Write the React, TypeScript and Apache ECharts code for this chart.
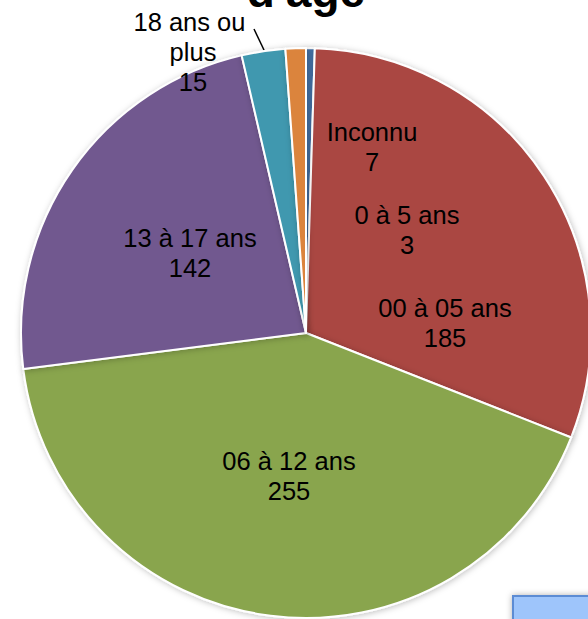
import React, { useEffect, useRef } from "react";
import * as echarts from "echarts";

const categories = ["0 à 5 ans", "00 à 05 ans", "06 à 12 ans", "13 à 17 ans", "18 ans ou plus", "Inconnu"];
const values = [3, 185, 255, 142, 15, 7];
const colors = ["#4572A7", "#AA4643", "#89A54E", "#71588F", "#4198AF", "#DB843D"];
const titleText = "d'âge";

// label block centres (layout only)
const labelPos: [number, number][] = [
  [407, 230],
  [445, 323],
  [289, 476],
  [190, 253],
  [193, 52],
  [372, 147],
];

export default function App() {
  const ref = useRef<HTMLDivElement>(null);
  useEffect(() => {
    if (!ref.current) return;
    const chart = echarts.init(ref.current, undefined, { renderer: "svg" });
    const font = "'Liberation Sans', Arial, sans-serif";
    chart.setOption({
      animation: false,
      backgroundColor: "#ffffff",
      graphic: [
        {
          type: "text",
          style: {
            text: titleText,
            x: 306,
            y: 14,
            fontSize: 46,
            fontWeight: "bold",
            fontFamily: font,
            fill: "#000",
            align: "center",
            verticalAlign: "bottom",
          },
        },
        {
          type: "line",
          shape: { x1: 254, y1: 29, x2: 264, y2: 50 },
          style: { stroke: "#000", lineWidth: 1.5 },
        },
        {
          type: "rect",
          shape: { x: 513, y: 596, width: 100, height: 40 },
          style: {
            fill: "#9EC5FB",
            stroke: "#5B8CD4",
            lineWidth: 2,
            shadowBlur: 6,
            shadowColor: "rgba(0,0,0,0.3)",
          },
          z: 10,
        },
      ],
      series: [
        {
          type: "pie",
          center: [306, 333],
          radius: 285,
          startAngle: 90,
          clockwise: true,
          avoidLabelOverlap: false,
          itemStyle: {
            borderColor: "#ffffff",
            borderWidth: 2,
            shadowBlur: 6,
            shadowColor: "rgba(0,0,0,0.25)",
            shadowOffsetX: 1,
            shadowOffsetY: 1,
          },
          label: {
            show: true,
            position: "inside",
            formatter: "{b}\n{c}",
            color: "#000",
            fontSize: 25.5,
            lineHeight: 30,
            fontFamily: font,
            align: "center",
          },
          labelLine: { show: false },
          labelLayout: (params: any) => {
            const p = labelPos[params.dataIndex];
            return { x: p[0], y: p[1], align: "center", verticalAlign: "middle" };
          },
          emphasis: { disabled: true },
          data: categories.map((name, i) => ({
            name,
            value: values[i],
            itemStyle: { color: colors[i] },
            label: name === "18 ans ou plus" ? { width: 125, overflow: "break" } : undefined,
          })),
        },
      ],
    });
    return () => chart.dispose();
  }, []);
  return (
    <div
      ref={ref}
      style={{ position: "fixed", left: 0, top: 0, width: 588, height: 619 }}
    />
  );
}
